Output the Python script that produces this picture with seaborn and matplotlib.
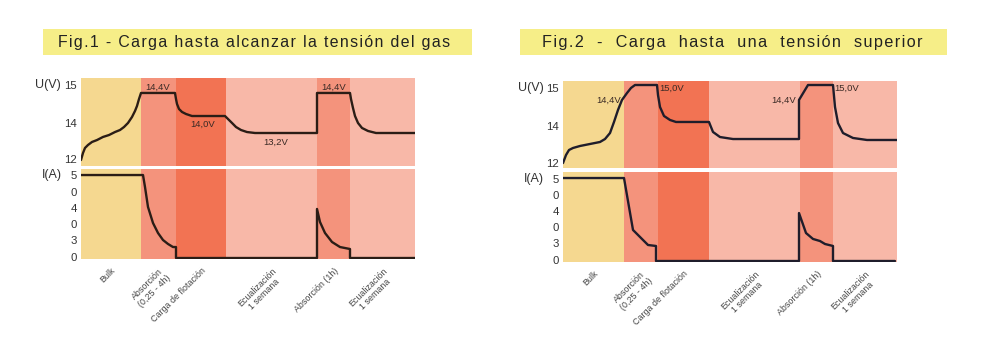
import numpy as np
import pandas as pd
import matplotlib
matplotlib.use("Agg")
import matplotlib.pyplot as plt
import seaborn as sns
from matplotlib.patches import Rectangle
from matplotlib.transforms import ScaledTranslation

# ---------------- data ----------------
phase_labels = ["Bulk", "Absorción\n(0,25 - 4h)", "Carga de flotación",
                "Ecualización\n1 semana", "Absorción (1h)", "Ecualización\n1 semana"]
phase_kind = ["bulk", "abs", "float", "ecual", "abs", "ecual"]
fig1_durations = [60, 35, 50, 91, 33, 65]
fig2_durations = [61, 34, 51, 91, 33, 64]

u_tick_labels = ["15", "14", "12"]
i_tick_labels = ["5", "0", "4", "0", "3", "0"]
fig1_u_ticks = [92.0, 48.9, 8.0]
fig1_i_ticks = [93.3, 74.4, 56.7, 38.9, 21.1, 2.2]
fig2_u_ticks = [92.0, 48.3, 5.7]
fig2_i_ticks = [92.2, 74.4, 56.7, 38.9, 21.1, 2.2]

# Fig.1 voltage (panel level, %) vs time
fig1_u_t = [0, 2, 4, 7, 11, 16, 22, 28, 34, 39, 43, 47, 51, 54, 56, 58, 60,
            94, 95, 96, 98, 101, 105, 111,
            144, 147, 151, 155, 160, 166, 174,
            236, 236,
            269, 270, 272, 274, 277, 281, 287, 295,
            334]
fig1_u_v = [6.8, 14.8, 20.5, 23.9, 27.3, 29.5, 33.0, 35.2, 38.6, 40.9, 44.3, 48.9, 55.7, 62.5, 68.2, 76.1, 83.0,
            83.0, 76.1, 70.5, 64.8, 61.4, 59.1, 56.8,
            56.8, 53.4, 48.9, 44.3, 40.9, 38.6, 37.5,
            37.5, 83.0,
            83.0, 76.1, 65.9, 56.8, 48.9, 43.2, 39.8, 37.5,
            37.5]
# Fig.1 current
fig1_i_t = [0, 62, 64, 67, 72, 77, 82, 87, 92, 95, 95, 236, 236, 239, 244, 251, 259, 269, 269, 334]
fig1_i_v = [93.3, 93.3, 80.0, 57.8, 40.0, 28.9, 21.1, 16.7, 13.3, 13.3, 1.1, 1.1,
            55.6, 41.1, 28.9, 18.9, 13.3, 11.1, 1.1, 1.1]

# Fig.2 voltage
fig2_u_t = [0, 3, 6, 10, 17, 27, 37, 42, 47, 51, 55, 59, 64, 68, 72,
            94, 95, 97, 101, 107, 113,
            146, 148, 150, 157, 170,
            236, 236, 245, 270, 272, 275, 280, 290, 304, 334]
fig2_u_v = [5.7, 14.9, 20.7, 23.0, 25.3, 27.6, 29.9, 33.3, 40.2, 52.9, 66.7, 78.2, 86.2, 92.0, 95.4,
            95.4, 83.9, 70.1, 59.8, 55.2, 52.9,
            52.9, 47.1, 41.4, 35.6, 33.3,
            33.3, 78.2, 95.4, 95.4, 70.1, 51.7, 40.2, 34.5, 32.2, 32.2]
# Fig.2 current
fig2_i_t = [0, 61, 70, 77, 85, 93, 93, 236, 236, 243, 250, 257, 262, 270, 270, 332]
fig2_i_v = [93.3, 93.3, 35.6, 27.8, 18.9, 17.8, 1.1, 1.1,
            54.4, 32.2, 25.6, 23.3, 20.0, 17.8, 1.1, 1.1]

# annotations: (text, t, level, ha)
fig1_notes = [("14,4V", 77, 89.8, "center"), ("14,0V", 122, 47.7, "center"),
              ("13,2V", 195, 27.3, "center"), ("14,4V", 253, 89.8, "center")]
fig2_notes = [("14,4V", 58, 78.2, "right"), ("15,0V", 96, 92.0, "left"),
              ("14,4V", 233, 78.2, "right"), ("15,0V", 271, 92.0, "left")]

titles = ["Fig.1 - Carga hasta alcanzar la tensión del gas",
          "Fig.2 - Carga hasta una tensión superior"]

colors = {"bulk": "#F5D890", "abs": "#F4937C", "float": "#F27353", "ecual": "#F8B8A8"}

# ---------------- style ----------------
sns.set_theme(style="white")
plt.rcParams["font.family"] = ["Liberation Sans", "DejaVu Sans"]

W, H = 1000, 343
fig = plt.figure(figsize=(10, 3.43), dpi=100)
fig.patch.set_facecolor("white")


def box(x0, y0, x1, y1):
    return [x0 / W, 1 - y1 / H, (x1 - x0) / W, (y1 - y0) / H]


TXT = "#333333"

panels = [
    dict(dur=fig1_durations, top=(81, 78, 415, 166), bot=(81, 169, 415, 259),
         ut=fig1_u_ticks, it=fig1_i_ticks, u=(fig1_u_t, fig1_u_v), i=(fig1_i_t, fig1_i_v),
         notes=fig1_notes, lc="#2b1d16", ulab=(61, 85), ilab=(62, 175),
         tbox=(43, 29, 472, 55), title=titles[0], tx=254, tspace=1, tsize=11.4),
    dict(dur=fig2_durations, top=(563, 81, 897, 168), bot=(563, 172, 897, 262),
         ut=fig2_u_ticks, it=fig2_i_ticks, u=(fig2_u_t, fig2_u_v), i=(fig2_i_t, fig2_i_v),
         notes=fig2_notes, lc="#1f1d2b", ulab=(544, 88), ilab=(544, 179),
         tbox=(520, 29, 947, 55), title=titles[1], tx=732, tspace=2, tsize=11.7),
]

for p in panels:
    edges = np.concatenate([[0], np.cumsum(p["dur"])])
    centers = (edges[:-1] + edges[1:]) / 2
    ax_u = fig.add_axes(box(*p["top"]))
    ax_i = fig.add_axes(box(*p["bot"]))
    for ax in (ax_u, ax_i):
        for k, (a, b) in enumerate(zip(edges[:-1], edges[1:])):
            ax.axvspan(a, b, color=colors[phase_kind[k]], lw=0, zorder=0)
        for s in ax.spines.values():
            s.set_visible(False)
        ax.tick_params(length=0, labelsize=8.2, colors=TXT, pad=3)

    sns.lineplot(x=p["u"][0], y=p["u"][1], ax=ax_u, color=p["lc"], lw=1.7,
                 estimator=None, sort=False, zorder=3)
    sns.lineplot(x=p["i"][0], y=p["i"][1], ax=ax_i, color=p["lc"], lw=1.7,
                 estimator=None, sort=False, zorder=3)
    for ax in (ax_u, ax_i):
        ax.set_xlim(edges[0], edges[-1])
        ax.set_ylim(0, 100)
        ax.set_xlabel("")
        ax.set_ylabel("")

    ax_u.set_yticks(p["ut"])
    ax_u.set_yticklabels(u_tick_labels)
    ax_u.set_xticks([])
    ax_i.set_yticks(p["it"])
    ax_i.set_yticklabels(i_tick_labels)
    ax_i.set_xticks(centers)
    ax_i.set_xticklabels(phase_labels, rotation=45, ha="right", va="top",
                         rotation_mode="anchor", fontsize=6.4, color="#444444",
                         multialignment="center")
    ax_i.tick_params(axis="x", pad=5)

    for txt, t, lev, ha in p["notes"]:
        ax_u.text(t, lev, txt, ha=ha, va="center", fontsize=6.8, color="#3a2a25", zorder=4)

    fig.text(p["ulab"][0] / W, 1 - p["ulab"][1] / H, "U(V)", ha="right", va="center",
             fontsize=9, color=TXT)
    fig.text(p["ilab"][0] / W, 1 - p["ilab"][1] / H, "I(A)", ha="right", va="center",
             fontsize=9, color=TXT)

    x0, y0, x1, y1 = p["tbox"]
    fig.patches.append(Rectangle((x0 / W, 1 - y1 / H), (x1 - x0) / W, (y1 - y0) / H,
                                 transform=fig.transFigure, facecolor="#F6EE88",
                                 edgecolor="none", zorder=0))
    title = p["title"]
    if p["tspace"] == 2:
        title = "\u200a".join(title.replace(" ", "  "))
    else:
        title = "\u200a".join(title)
    fig.text(p["tx"] / W, 1 - 42.5 / H, title, ha="center", va="center",
             fontsize=p["tsize"], color="#222222")

fig.savefig("out.png", dpi=100, facecolor="white")
